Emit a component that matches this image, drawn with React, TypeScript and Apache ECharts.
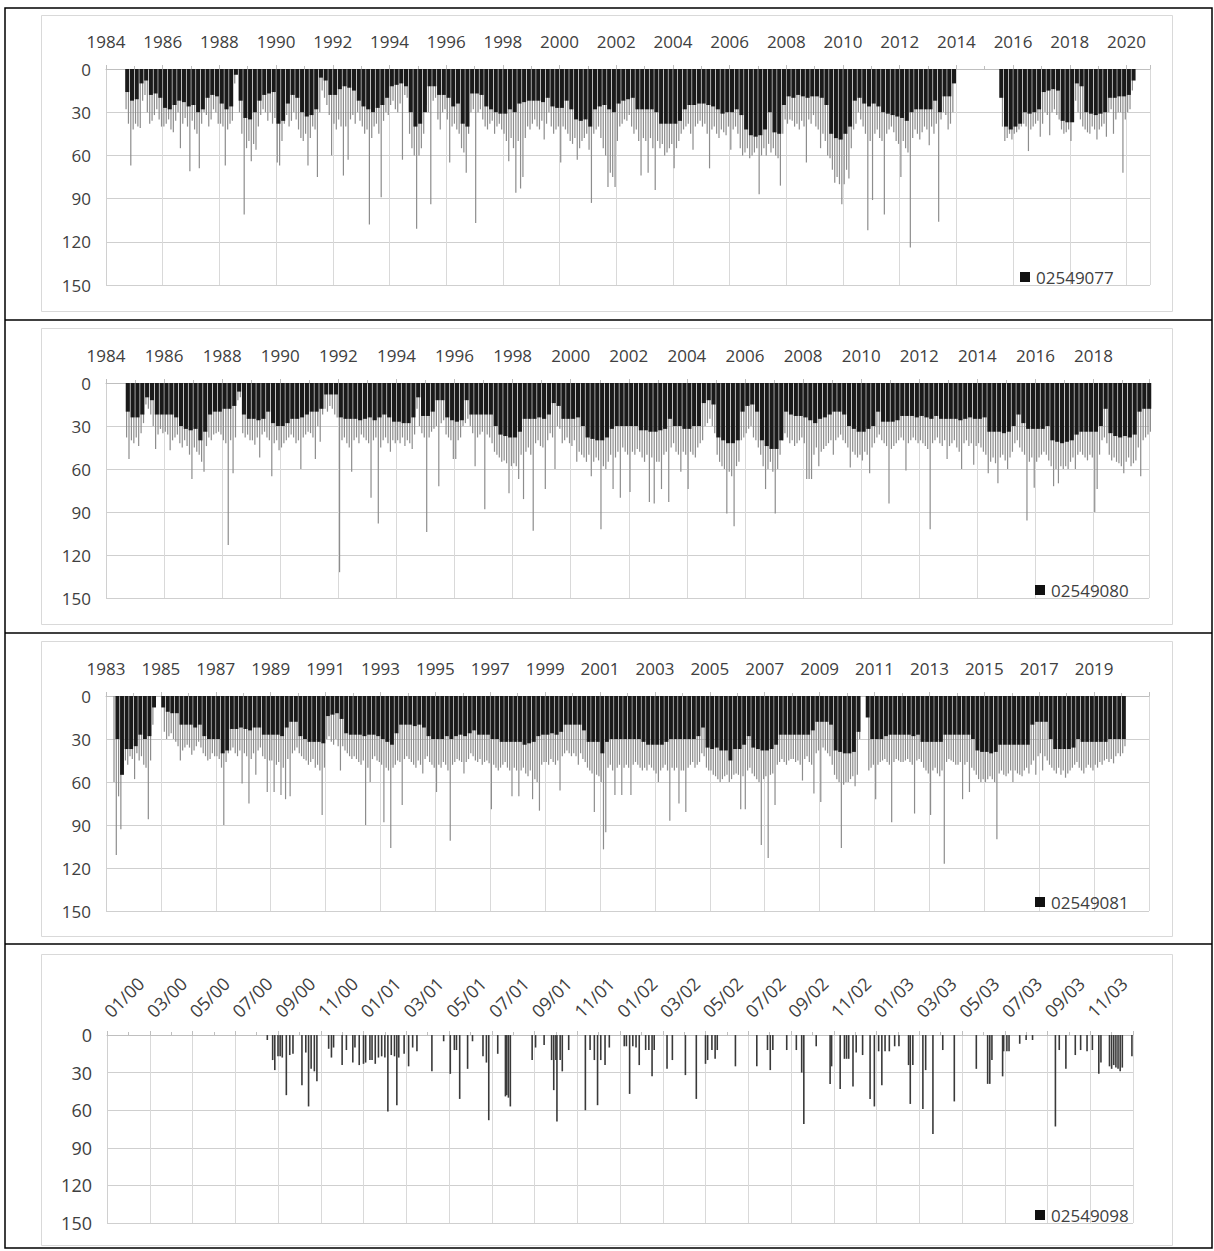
import React, { useEffect, useRef } from "react";
import * as echarts from "echarts";

// ---------- Panel 1: station 02549077 (1984–2020) ----------
const p1Name = "02549077";
const p1Start = 1984;
// black (dense) depth, 6 values per year (bimonthly)
const p1Black = [
  0,0,0,0,16,22, 21,10,8,18,17,20, 27,28,25,22,23,26, 25,30,28,20,18,19,
  24,28,26,4,22,34, 35,30,22,18,17,16, 38,36,24,18,20,30, 33,32,28,6,8,18,
  18,14,12,13,15,22, 26,28,30,27,25,20, 12,11,10,12,30,40, 38,30,12,12,18,18,
  20,26,24,38,40,17, 17,18,26,28,30,31, 31,28,30,24,23,22, 22,22,23,20,26,27,
  27,22,28,35,36,35, 40,28,26,25,28,30, 24,22,21,20,28,28, 28,28,30,38,38,38,
  38,36,28,25,25,24, 24,25,26,28,31,30, 30,28,32,42,46,47, 46,42,30,44,45,25,
  19,20,18,19,20,19, 19,20,25,45,48,49, 45,40,22,20,24,26, 24,26,30,31,32,33,
  34,36,30,28,28,28, 28,22,30,19,19,10, 0,0,0,0,0,0, 0,0,0,20,40,42,
  40,38,30,31,30,28, 16,15,14,15,36,37, 37,10,12,30,31,32, 31,30,20,20,19,19,
  18,8,0,0,0,0,
];
// gray peaks, 12 values per year (monthly maxima)
const p1Peak = [
  0,0,0,0,0,0,0,0,28,38,67,42,
  38,40,41,22,18,30,38,36,32,28,35,40,
  40,38,35,42,44,36,30,55,38,34,40,71,
  36,42,45,69,38,30,32,40,35,28,30,38,
  38,40,67,42,38,36,10,0,30,45,101,55,
  50,64,52,56,40,32,28,30,36,30,38,34,
  65,67,50,38,32,40,36,30,35,42,48,50,
  45,67,48,40,42,75,30,15,20,25,32,60,
  38,42,35,40,74,40,63,35,32,38,30,36,
  40,45,42,108,48,40,38,45,89,36,30,32,
  25,22,28,30,24,63,18,20,45,55,60,111,
  60,55,45,25,30,94,22,20,35,42,30,28,
  35,65,40,38,42,45,55,58,72,45,30,28,
  107,30,28,35,40,42,38,36,45,40,38,42,
  45,50,64,48,55,86,50,83,75,48,40,42,
  38,35,40,42,36,49,38,30,40,45,42,40,
  65,40,42,45,50,52,48,63,55,50,48,45,
  56,93,45,42,40,48,55,60,82,72,75,82,
  50,40,38,35,36,32,40,45,42,50,74,48,
  50,72,48,55,84,50,55,52,60,58,55,52,
  69,55,50,45,42,40,38,45,56,40,38,36,
  40,38,45,69,42,40,45,48,42,44,46,40,
  56,42,40,45,55,60,58,55,62,60,58,55,
  87,60,55,60,52,58,55,60,62,81,45,35,
  38,35,36,40,38,42,36,40,65,35,38,32,
  40,42,55,45,50,60,62,70,79,75,80,94,
  80,70,76,55,42,38,30,35,40,45,112,50,
  91,45,42,48,50,101,45,42,40,44,50,52,
  75,50,55,58,124,48,42,45,49,44,40,42,
  53,40,45,38,106,35,30,32,42,38,30,0,
  0,0,0,0,0,0,0,0,0,0,0,0,
  0,0,0,0,0,0,0,40,50,48,45,49,
  45,44,42,40,38,40,57,42,40,38,36,47,
  38,30,32,46,30,28,32,35,42,45,44,42,
  50,25,22,30,35,40,42,44,45,40,42,49,
  42,40,38,47,30,28,45,35,30,30,72,35,
  30,28,15,0,0,0,0,0,0,0,0,0,
];

// ---------- Panel 2: station 02549080 (1984–2019) ----------
const p2Name = "02549080";
const p2Start = 1984;
const p2Black = [
  0,0,0,0,20,24, 24,22,10,12,22,22, 22,22,24,30,32,33, 32,40,34,22,20,20,
  18,18,16,6,22,25, 25,26,25,20,28,30, 30,28,25,25,24,22, 20,20,18,8,8,8,
  24,25,25,25,26,25, 24,26,24,22,24,27, 27,28,28,24,10,23, 23,20,12,12,24,26,
  27,26,12,22,22,22, 22,22,30,36,37,38, 38,34,25,25,25,24, 25,22,14,16,25,25,
  25,24,30,38,39,40, 40,38,32,30,30,30, 30,30,33,33,34,34, 33,32,25,30,30,32,
  32,30,30,14,12,15, 38,40,42,42,40,20, 16,15,20,40,44,46, 46,40,20,22,23,23,
  24,26,28,25,24,22, 20,20,22,30,32,34, 34,32,30,20,27,27, 27,26,23,23,23,24,
  23,24,25,23,25,25, 25,25,26,25,24,25, 25,24,34,34,34,35, 34,30,22,28,32,32,
  32,32,30,40,41,42, 41,40,36,34,34,34, 34,30,18,35,37,38, 37,38,36,20,18,18,
];
const p2Peak = [
  0,0,0,0,0,0,0,0,38,53,40,42,
  38,44,35,28,15,18,22,30,46,36,32,35,
  34,36,47,40,38,36,42,45,40,44,50,67,
  45,48,50,55,62,44,38,40,36,35,34,36,
  40,42,113,40,63,38,12,10,35,38,36,40,
  40,43,38,52,36,34,38,40,65,42,40,47,
  45,42,40,38,36,38,42,40,60,38,36,34,
  35,38,53,30,41,22,18,20,16,18,22,24,
  132,40,38,42,45,62,40,38,42,36,38,40,
  42,80,40,38,98,45,40,38,42,48,40,42,
  40,42,38,44,40,42,46,36,18,30,35,38,
  104,38,34,32,30,72,28,26,36,38,40,53,
  53,40,38,30,28,25,30,35,58,38,36,34,
  88,36,38,42,48,50,52,55,54,56,77,58,
  56,58,67,50,81,48,45,50,103,42,40,44,
  45,74,40,35,38,60,30,32,42,40,38,42,
  44,40,55,48,50,52,55,50,65,55,52,54,
  102,58,60,55,50,74,52,48,80,45,48,50,
  76,48,50,46,48,52,55,50,83,52,84,55,
  55,74,50,48,83,45,42,48,50,62,48,50,
  74,48,50,52,45,42,40,30,28,25,30,35,
  50,55,58,60,91,62,65,100,58,55,40,38,
  35,32,30,38,40,45,50,58,74,60,55,62,
  91,60,50,40,35,38,42,40,44,42,40,38,
  42,67,67,67,50,45,58,48,46,44,42,40,
  50,40,38,36,40,42,45,59,48,50,52,50,
  54,48,50,63,45,42,38,36,40,42,44,84,
  46,44,42,40,38,40,61,42,40,38,40,42,
  40,42,44,46,102,42,40,38,42,44,40,53,
  44,42,40,45,48,60,42,40,44,42,57,44,
  42,45,48,50,63,55,52,56,70,52,50,54,
  60,52,48,42,40,45,48,50,96,55,52,73,
  55,52,50,48,50,54,58,72,60,70,58,60,
  58,60,55,52,60,50,48,50,52,54,50,52,
  90,74,50,40,38,42,50,54,52,55,56,58,
  63,55,52,58,56,54,45,65,40,38,36,34,
];

// ---------- Panel 3: station 02549081 (1983–2020) ----------
const p3Name = "02549081";
const p3Start = 1983;
const p3Black = [
  0,0,30,55,37,37, 35,27,30,28,8,0, 8,11,12,12,20,20, 20,22,20,28,30,30,
  30,40,38,23,23,22, 23,24,22,22,27,27, 27,27,28,22,18,18, 28,30,32,32,32,33,
  14,13,12,16,26,27, 27,27,28,27,27,28, 30,32,34,26,20,20, 20,21,20,22,28,30,
  30,30,28,30,28,27, 28,26,24,27,27,27, 30,30,32,32,32,32, 32,34,33,32,28,27,
  27,26,27,25,20,20, 20,20,24,32,32,32, 40,32,30,30,30,30, 30,30,30,32,34,34,
  34,34,32,30,30,30, 30,30,30,28,22,36, 37,36,38,38,45,37, 37,34,28,36,37,38,
  38,37,34,27,27,27, 27,27,27,27,24,18, 18,18,20,38,39,40, 40,39,25,0,15,30,
  30,30,28,27,27,27, 27,27,28,27,32,32, 32,32,32,27,27,27, 27,27,27,30,38,39,
  39,40,39,34,34,34, 34,34,34,34,20,18, 18,18,30,37,37,37, 37,36,30,32,32,32,
  32,32,32,30,30,30, 30,0,0,0,0,0,
];
const p3Peak = [
  0,0,0,60,111,70,93,50,45,48,42,44,
  58,40,45,42,48,50,86,45,20,0,0,0,
  0,25,30,28,26,30,32,35,45,38,36,34,
  36,41,38,35,32,36,40,42,45,44,40,42,
  42,44,50,90,46,40,38,36,40,42,38,61,
  40,42,75,44,40,55,38,36,42,44,67,45,
  45,67,48,46,69,50,72,44,70,40,38,36,
  40,42,44,45,48,46,44,50,48,52,83,50,
  30,28,32,34,30,35,52,35,38,40,42,44,
  42,44,46,48,45,90,50,60,44,42,45,46,
  48,88,50,52,106,50,48,45,46,76,44,42,
  44,46,48,50,45,48,54,44,42,46,48,50,
  67,48,50,46,48,52,101,48,46,44,45,46,
  54,46,44,40,42,45,46,44,48,46,45,47,
  79,48,50,52,50,48,46,50,52,70,50,52,
  70,52,50,54,56,52,72,58,60,80,48,46,
  46,48,44,46,48,45,66,42,40,38,40,42,
  40,42,48,40,44,46,50,52,54,81,55,56,
  60,107,95,50,48,52,69,50,48,69,50,48,
  50,69,48,46,48,50,52,50,52,48,50,52,
  54,60,52,50,48,52,87,50,52,50,75,52,
  52,81,50,48,46,50,48,46,40,42,50,52,
  52,55,56,58,60,58,56,55,60,58,55,54,
  55,79,56,79,52,50,54,56,58,60,104,58,
  56,113,55,54,76,48,46,44,46,48,45,44,
  44,46,45,48,59,44,42,46,48,68,40,38,
  74,36,38,40,42,48,55,58,60,106,62,60,
  60,58,56,63,55,30,0,0,0,52,50,48,
  72,48,46,45,44,46,48,88,46,44,45,46,
  46,45,44,46,48,82,45,44,46,50,52,54,
  83,52,50,54,56,52,117,46,44,45,46,48,
  48,46,72,48,46,67,50,52,55,58,60,58,
  60,58,56,58,60,100,54,52,55,56,54,52,
  60,52,54,55,56,52,50,54,48,45,55,42,
  40,52,42,45,48,50,52,54,50,55,52,57,
  54,52,50,48,46,50,52,54,50,48,50,52,
  48,50,46,48,45,44,46,44,47,42,40,42,
  40,35,0,0,0,0,0,0,0,0,0,0,
];

// ---------- Panel 4: station 02549098 (Jan 2000 – Dec 2003), [month since Jan 2000, depth] ----------
const p4Name = "02549098";
const p4Spikes = [
  [7.5,4],[7.75,20],[7.85,28],[8.0,17],[8.1,17],[8.2,18],[8.39,48],[8.55,16],[8.7,15],[9.12,40],[9.3,14],
  [9.43,57],[9.55,27],[9.7,29],[9.82,37],[10.37,11],[10.5,18],[10.6,10],[11.0,24],[11.2,12],[11.5,22],
  [11.6,10],[11.8,24],[12.0,23],[12.1,22],[12.3,20],[12.4,20],[12.55,23],[12.7,18],[12.85,17],[13.0,18],
  [13.14,61],[13.3,16],[13.45,17],[13.56,56],[13.65,18],[13.9,15],[14.11,25],[14.3,10],[14.5,13],
  [15.2,29],[15.75,5],[16.06,31],[16.25,12],[16.35,12],[16.5,51],[16.87,27],[17.1,5],[17.59,17],[17.75,22],
  [17.86,68],[18.28,15],[18.64,49],[18.7,48],[18.78,50],[18.87,57],[19.89,20],[20.05,10],[20.45,8],[20.8,20],
  [20.9,44],[21.0,20],[21.05,69],[21.2,20],[21.3,29],[21.6,12],[22.38,60],[22.6,12],[22.8,20],[22.95,56],
  [23.1,20],[23.3,24],[23.5,10],[24.2,9],[24.3,9],[24.45,47],[24.6,9],[24.75,10],[24.9,24],[25.2,12],
  [25.35,12],[25.5,33],[25.6,12],[26.2,27],[26.45,20],[27.06,32],[27.57,51],[28.0,23],[28.1,20],[28.3,12],
  [28.45,19],[28.55,12],[29.4,25],[30.4,25],[30.9,12],[31.03,28],[31.15,12],[31.8,12],[32.25,12],
  [32.5,30],[32.6,71],[33.18,9],[33.83,39],[33.9,25],[34.3,43],[34.5,19],[34.6,19],[34.7,19],[34.9,41],
  [35.05,14],[35.35,16],[35.7,51],[35.9,57],[36.1,13],[36.25,40],[36.4,13],[36.6,13],[36.85,9],[37.05,9],
  [37.5,24],[37.58,55],[37.7,24],[38.17,59],[38.3,28],[38.64,79],[39.1,12],[39.64,53],[40.67,27],[41.2,39],
  [41.3,39],[41.4,20],[41.9,33],[41.95,13],[42.1,13],[42.2,13],[42.7,7],[43.0,4],[43.3,4],[44.37,73],
  [44.55,12],[44.86,27],[45.3,16],[45.55,12],[45.85,13],[46.1,12],[46.4,31],[46.5,22],[46.9,25],[47.0,27],
  [47.1,24],[47.2,26],[47.3,27],[47.4,29],[47.5,26],[47.95,17],
];

const yTicks = [0, 30, 60, 90, 120, 150];

const FONT = "'Open Sans', 'Liberation Sans', sans-serif";
const LABEL_COLOR = "#404040";

const yearPanels = [
  { name: p1Name, start: p1Start, black: p1Black, peak: p1Peak, min: 1984, max: 2020.83,
    grid: { left: 106, top: 69, width: 1044, height: 216 }, legend: { left: 1020, top: 267 } },
  { name: p2Name, start: p2Start, black: p2Black, peak: p2Peak, min: 1984, max: 2019.91,
    grid: { left: 106, top: 383, width: 1043, height: 215 }, legend: { left: 1035, top: 580 } },
  { name: p3Name, start: p3Start, black: p3Black, peak: p3Peak, min: 1983, max: 2021,
    grid: { left: 106, top: 696, width: 1043, height: 215 }, legend: { left: 1035, top: 892 } },
];
const monthPanel = { name: p4Name, min: 0, max: 48,
  grid: { left: 107, top: 1035, width: 1026, height: 188 }, legend: { left: 1035, top: 1205 } };

function yAxisFor(i: number, fontSize: number) {
  return {
    type: "value", gridIndex: i, inverse: true, min: yTicks[0], max: yTicks[yTicks.length - 1], interval: 30,
    axisLine: { show: true, lineStyle: { color: "#d0d0d0" } },
    axisTick: { show: false },
    axisLabel: { fontSize, color: LABEL_COLOR, fontFamily: FONT, margin: 15 },
    splitLine: { show: true, lineStyle: { color: "#cfcfcf", width: 1 } },
  };
}

function buildOption() {
  const grids: any[] = [];
  const xAxes: any[] = [];
  const yAxes: any[] = [];
  const series: any[] = [];
  const legends: any[] = [];

  yearPanels.forEach((p, i) => {
    grids.push({ ...p.grid, containLabel: false });
    xAxes.push({
      type: "value", gridIndex: i, position: "top", min: p.min, max: p.max, interval: 2,
      axisLine: { show: true, onZero: false, lineStyle: { color: "#bfbfbf" } },
      axisTick: { show: true, length: 4, lineStyle: { color: "#bfbfbf" } },
      minorTick: { show: true, splitNumber: 2, length: 3, lineStyle: { color: "#bfbfbf" } },
      axisLabel: { fontSize: 17, color: LABEL_COLOR, fontFamily: FONT, margin: 19, showMaxLabel: false,
        formatter: (v: number) => String(Math.round(v)) },
      splitLine: { show: true, lineStyle: { color: "#d9d9d9" } },
    });
    xAxes.push({ type: "value", gridIndex: i, position: "top", min: p.min, max: p.max, show: false });
    yAxes.push(yAxisFor(i, 17));
    const perYearPx = p.grid.width / (p.max - p.min);
    series.push({
      type: "bar", name: p.name + "-peak", xAxisIndex: i * 2 + 1, yAxisIndex: i,
      barWidth: 1.2, itemStyle: { color: "#8d8d8d" }, z: 2, silent: true,
      data: p.peak.map((v, k) => [p.start + (k + 0.5) / 12, v]).filter((d) => d[1] > 0),
    });
    series.push({
      type: "bar", name: p.name, xAxisIndex: i * 2, yAxisIndex: i,
      barWidth: (perYearPx / 6) * 0.85, itemStyle: { color: "#1a1a1a" }, z: 3, silent: true,
      data: p.black.map((v, k) => [p.start + (k + 0.5) / 6, v]).filter((d) => d[1] > 0),
    });
    legends.push({
      data: [p.name], left: p.legend.left, top: p.legend.top, padding: 0, icon: "rect",
      itemWidth: 10, itemHeight: 10, selectedMode: false, itemStyle: { color: "#111" },
      textStyle: { fontSize: 17, color: LABEL_COLOR, fontFamily: FONT, lineHeight: 20, padding: [0, 0, 0, 1] },
    });
  });

  const gi = 3;
  grids.push({ ...monthPanel.grid, containLabel: false });
  xAxes.push({
    type: "value", gridIndex: gi, position: "top", min: monthPanel.min, max: monthPanel.max, interval: 2,
    axisLine: { show: true, onZero: false, lineStyle: { color: "#bfbfbf" } },
    axisTick: { show: true, length: 4, lineStyle: { color: "#bfbfbf" } },
    minorTick: { show: true, splitNumber: 2, length: 3, lineStyle: { color: "#bfbfbf" } },
    axisLabel: {
      fontSize: 18, color: LABEL_COLOR, fontFamily: FONT, margin: 21, rotate: -45, showMaxLabel: false,
      formatter: (v: number) => {
        const m = Math.round(v);
        const mm = String((m % 12) + 1).padStart(2, "0");
        const yy = String(Math.floor(m / 12)).padStart(2, "0");
        return mm + "/" + yy;
      },
    },
    splitLine: { show: true, lineStyle: { color: "#d9d9d9" } },
  });
  yAxes.push(yAxisFor(gi, 18));
  series.push({
    type: "bar", name: monthPanel.name, xAxisIndex: 6, yAxisIndex: gi,
    barWidth: 1.6, itemStyle: { color: "#3a3a3a" }, z: 3, silent: true,
    data: p4Spikes,
  });
  legends.push({
    data: [monthPanel.name], left: monthPanel.legend.left, top: monthPanel.legend.top, padding: 0, icon: "rect",
    itemWidth: 10, itemHeight: 10, selectedMode: false, itemStyle: { color: "#111" },
    textStyle: { fontSize: 17, color: LABEL_COLOR, fontFamily: FONT, lineHeight: 20, padding: [0, 0, 0, 1] },
  });

  const frames = [
    { y: 15, h: 296 }, { y: 328, h: 296 }, { y: 641, h: 295 }, { y: 954, h: 291 },
  ];
  const graphic: any[] = [
    ...frames.map((f) => ({
      type: "rect", z: -10, silent: true,
      shape: { x: 41.5, y: f.y + 0.5, width: 1131, height: f.h },
      style: { fill: "#fff", stroke: "#d9d9d9", lineWidth: 1 },
    })),
    { type: "rect", z: 100, silent: true, shape: { x: 5, y: 8, width: 1207, height: 1240 },
      style: { fill: "none", stroke: "#000", lineWidth: 1.5 } },
    ...[320, 633, 944].map((y) => ({
      type: "line", z: 100, silent: true, shape: { x1: 5, y1: y, x2: 1212, y2: y },
      style: { stroke: "#000", lineWidth: 1.5 },
    })),
  ];

  return {
    animation: false,
    backgroundColor: "#fff",
    textStyle: { fontFamily: FONT },
    grid: grids,
    xAxis: xAxes,
    yAxis: yAxes,
    legend: legends,
    series,
    graphic,
  };
}

export default function App() {
  const ref = useRef<HTMLDivElement>(null);
  useEffect(() => {
    if (!ref.current) return;
    const chart = echarts.init(ref.current, undefined, { renderer: "svg" });
    chart.setOption(buildOption() as any);
    return () => chart.dispose();
  }, []);
  return (
    <div
      ref={ref}
      style={{ position: "absolute", left: 0, top: 0, width: 1214, height: 1251, background: "#fff" }}
    />
  );
}
